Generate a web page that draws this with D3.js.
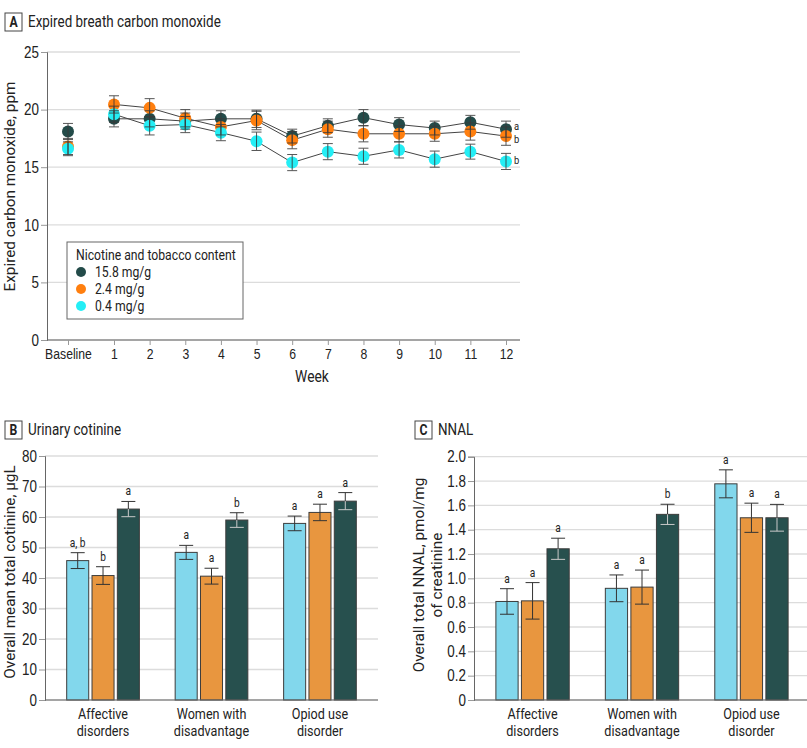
<!DOCTYPE html>
<html><head><meta charset="utf-8">
<script src="https://cdn.jsdelivr.net/npm/d3@7"></script>
<style>
body{margin:0;background:#fff;}
svg{font-family:Roboto,"DejaVu Sans Condensed",sans-serif;}
</style></head><body>
<svg id="c" width="807" height="748"></svg>
<script>
// ---------- DATA ----------
const weeks = ["Baseline","1","2","3","4","5","6","7","8","9","10","11","12"];
const seriesNames = ["15.8 mg/g","2.4 mg/g","0.4 mg/g"];
const coHigh = [18.1,19.2,19.2,19.0,19.2,19.2,17.7,18.6,19.3,18.7,18.4,18.9,18.3];
const coHighErr = [0.7,0.7,0.7,0.7,0.7,0.75,0.6,0.6,0.7,0.6,0.6,0.6,0.7];
const coMid = [16.8,20.45,20.15,19.25,18.5,19.05,17.35,18.3,17.9,17.9,17.9,18.1,17.7];
const coMidErr = [0.7,0.75,0.8,0.75,0.7,0.8,0.75,0.7,0.7,0.7,0.65,0.75,0.8];
const coLow = [16.6,19.6,18.6,18.7,18.0,17.25,15.4,16.35,15.95,16.5,15.7,16.35,15.5];
const coLowErr = [0.6,0.7,0.8,0.7,0.7,0.8,0.7,0.7,0.7,0.7,0.7,0.65,0.7];
const coSig = ["a","b","b"];
const coTicks = [0,5,10,15,20,25];

const groups = [["Affective","disorders"],["Women with","disadvantage"],["Opiod use","disorder"]];
const barSeries = ["0.4 mg/g","2.4 mg/g","15.8 mg/g"];
const cotLow = [45.7,48.4,57.9];
const cotLowErr = [2.6,2.3,2.4];
const cotMid = [40.8,40.6,61.5];
const cotMidErr = [2.9,2.6,2.7];
const cotHigh = [62.6,59.0,65.2];
const cotHighErr = [2.5,2.4,2.8];
const cotSig = [["a, b","b","a"],["a","a","b"],["a","a","a"]];
const cotTicks = [0,10,20,30,40,50,60,70,80];

const nnalLow = [0.81,0.918,1.777];
const nnalLowErr = [0.105,0.11,0.115];
const nnalMid = [0.815,0.928,1.498];
const nnalMidErr = [0.15,0.14,0.12];
const nnalHigh = [1.243,1.526,1.498];
const nnalHighErr = [0.087,0.083,0.11];
const nnalSig = [["a","a","a"],["a","a","b"],["a","a","a"]];
const nnalTicks = [0,0.2,0.4,0.6,0.8,1.0,1.2,1.4,1.6,1.8,2.0];

// ---------- STYLE ----------
const lineColors = ["#234b49","#ff7f0f","#24eef5"];
const barColors = ["#82d7ec","#e8963f","#27504e"];
const gridColor = "#dcdcdc", axisColor = "#666", tickColor = "#999", textColor = "#222";

const svg = d3.select("#c");
let titleNode = null;

function panelTitle(x, y, letter, text){
  const g = svg.append("g");
  g.append("rect").attr("x",x).attr("y",y).attr("width",17).attr("height",18)
    .attr("fill","#fff").attr("stroke","#444").attr("stroke-width",1);
  g.append("text").attr("x",x+8.5).attr("y",y+14).attr("text-anchor","middle")
    .attr("font-weight","bold").attr("font-size",15).attr("fill",textColor).text(letter);
  const t = g.append("text").attr("x",x+23).attr("y",y+14.5).attr("font-size",16.5).attr("fill",textColor).text(text);
  if (!titleNode) titleNode = t.node();
}

function yAxisGrid(g, y, ticks, x0, x1, fmt){
  g.append("g").selectAll("line").data(ticks).join("line")
    .attr("x1",x0).attr("x2",x1).attr("y1",d=>y(d)).attr("y2",d=>y(d))
    .attr("stroke",gridColor).attr("stroke-width",1.3);
  const ax = g.append("g").attr("transform",`translate(${x0},0)`)
    .call(d3.axisLeft(y).tickValues(ticks).tickSize(6).tickPadding(2).tickFormat(fmt));
  ax.select(".domain").attr("stroke",axisColor);
  ax.selectAll(".tick line").attr("stroke",tickColor);
  ax.selectAll(".tick text").attr("font-size",16.5).attr("fill",textColor).attr("font-family",null);
  return ax;
}

// ---------- PANEL A ----------
panelTitle(5,13,"A","Expired breath carbon monoxide");
{
  const g = svg.append("g");
  const yA = d3.scaleLinear().domain([0,25]).range([340,52]);
  const xA = d3.scaleLinear().domain([0,1,12]).range([68,114,506]);
  const left = 47, right = 520;
  yAxisGrid(g, yA, coTicks, left, right, d3.format("d"));
  g.append("line").attr("x1",left).attr("x2",right).attr("y1",340).attr("y2",340)
    .attr("stroke",axisColor).attr("stroke-width",1.2);
  const xa = g.append("g").attr("transform","translate(0,340)")
    .call(d3.axisBottom(xA).tickValues(d3.range(weeks.length)).tickSize(5).tickPadding(3).tickFormat(i=>weeks[i]));
  xa.select(".domain").remove();
  xa.selectAll(".tick line").attr("stroke",tickColor);
  xa.selectAll(".tick text").attr("font-size",15).attr("fill",textColor).attr("font-family",null);
  g.append("text").attr("x",312).attr("y",382).attr("text-anchor","middle").attr("font-size",17).attr("fill",textColor).text("Week");
  g.append("text").attr("class","nocomp").attr("transform",`translate(15,186.5) rotate(-90)`).attr("text-anchor","middle")
    .attr("font-size",15.3).attr("fill",textColor).text("Expired carbon monoxide, ppm");

  const series = [
    {m:coHigh,e:coHighErr,c:lineColors[0]},
    {m:coMid,e:coMidErr,c:lineColors[1]},
    {m:coLow,e:coLowErr,c:lineColors[2]}
  ];
  const line = d3.line().x((d,i)=>xA(i+1)).y(d=>yA(d));
  series.forEach(s=>{
    g.append("path").attr("d",line(s.m.slice(1))).attr("fill","none").attr("stroke","#444").attr("stroke-width",1);
  });
  series.forEach(s=>{
    g.append("g").selectAll("circle").data(s.m).join("circle")
      .attr("cx",(d,i)=>xA(i)).attr("cy",d=>yA(d)).attr("r",6).attr("fill",s.c);
  });
  series.forEach(s=>{
    const eg = g.append("g").attr("stroke","#3a3a3a").attr("stroke-width",1).attr("opacity",0.85);
    s.m.forEach((d,i)=>{
      const x = xA(i), y1 = yA(d+s.e[i]), y2 = yA(d-s.e[i]);
      eg.append("line").attr("x1",x).attr("x2",x).attr("y1",y1).attr("y2",y2);
      eg.append("line").attr("x1",x-5).attr("x2",x+5).attr("y1",y1).attr("y2",y1);
      eg.append("line").attr("x1",x-5).attr("x2",x+5).attr("y1",y2).attr("y2",y2);
    });
  });
  const last = weeks.length-1;
  const sigVals = [coHigh[last], coMid[last], coLow[last]];
  const sigDy = [1, 7, 3];
  g.append("g").selectAll("text").data(coSig).join("text")
    .attr("x",xA(last)+8).attr("y",(d,i)=>yA(sigVals[i])+sigDy[i]).attr("font-size",11.5).attr("fill",textColor).text(d=>d);

  // legend
  const lg = g.append("g");
  lg.append("rect").attr("x",67).attr("y",242).attr("width",176).attr("height",77)
    .attr("fill","#fff").attr("stroke","#666").attr("stroke-width",1);
  lg.append("text").attr("x",76).attr("y",260).attr("font-size",15).attr("fill",textColor).text("Nicotine and tobacco content");
  seriesNames.forEach((n,i)=>{
    lg.append("circle").attr("cx",81).attr("cy",272+i*17).attr("r",5).attr("fill",lineColors[i]);
    lg.append("text").attr("x",95).attr("y",277.5+i*17).attr("font-size",15).attr("fill",textColor).text(n);
  });
}

// ---------- BAR PANELS ----------
function barPanel(opts){
  const g = svg.append("g");
  const y = d3.scaleLinear().domain(opts.domain).range([700,opts.top]);
  const x0 = d3.scaleBand().domain(d3.range(groups.length)).range([opts.left,opts.right]).paddingInner(0.33).paddingOuter(0.2);
  const x1 = d3.scaleBand().domain(d3.range(barSeries.length)).range([0,x0.bandwidth()]).paddingInner(0.13);
  yAxisGrid(g, y, opts.ticks, opts.left, opts.right, opts.fmt);
  const vals = [opts.low, opts.mid, opts.high];
  const errs = [opts.lowE, opts.midE, opts.highE];
  groups.forEach((grp,gi)=>{
    const gg = g.append("g").attr("transform",`translate(${x0(gi)},0)`);
    barSeries.forEach((s,si)=>{
      const v = vals[si][gi], e = errs[si][gi];
      const bx = x1(si), bw = x1.bandwidth(), cx = bx + bw/2;
      gg.append("rect").attr("x",bx).attr("y",y(v)).attr("width",bw).attr("height",y(0)-y(v))
        .attr("fill",barColors[si]).attr("stroke","#3c3c3c").attr("stroke-width",1);
      const ec = si===2 ? "#c9c9c9" : "#333";
      const eg = gg.append("g").attr("stroke","#333").attr("stroke-width",1);
      const yt = y(v+e), yb = y(v-e);
      eg.append("line").attr("x1",cx).attr("x2",cx).attr("y1",yt).attr("y2",Math.min(yb,y(v)));
      eg.append("line").attr("x1",cx-7).attr("x2",cx+7).attr("y1",yt).attr("y2",yt);
      const eg2 = gg.append("g").attr("stroke",ec).attr("stroke-width",1);
      eg2.append("line").attr("x1",cx).attr("x2",cx).attr("y1",y(v)).attr("y2",yb);
      eg2.append("line").attr("x1",cx-7).attr("x2",cx+7).attr("y1",yb).attr("y2",yb);
      gg.append("text").attr("x",cx).attr("y",yt-6).attr("text-anchor","middle")
        .attr("font-size",12.5).attr("fill",textColor).text(opts.sig[gi][si]);
    });
    const t = gg.append("text").attr("text-anchor","middle").attr("font-size",15.5).attr("fill",textColor);
    grp.forEach((ln,li)=>t.append("tspan").attr("x",x0.bandwidth()/2).attr("y",719+li*17).text(ln));
  });
  g.append("line").attr("x1",opts.left).attr("x2",opts.right).attr("y1",700).attr("y2",700)
    .attr("stroke",axisColor).attr("stroke-width",1.2);
  const lab = g.append("text").attr("class","nocomp").attr("transform",`translate(${opts.labelX},${opts.labelY}) rotate(-90)`)
    .attr("text-anchor","middle").attr("font-size",15.3).attr("fill",textColor);
  opts.label.forEach((ln,li)=>lab.append("tspan").attr("x",0).attr("dy",li===0?0:17.5).text(ln));
}

panelTitle(5,421,"B","Urinary cotinine");
barPanel({domain:[0,80],top:456,left:45,right:378,ticks:cotTicks,fmt:d3.format("d"),
  low:cotLow,lowE:cotLowErr,mid:cotMid,midE:cotMidErr,high:cotHigh,highE:cotHighErr,sig:cotSig,
  labelX:15,labelY:572,label:["Overall mean total cotinine, µgL"]});

panelTitle(415,421,"C","NNAL");
barPanel({domain:[0,2],top:456.7,left:474,right:810,ticks:nnalTicks,fmt:d=>d===0?"0":d3.format(".1f")(d),
  low:nnalLow,lowE:nnalLowErr,mid:nnalMid,midE:nnalMidErr,high:nnalHigh,highE:nnalHighErr,sig:nnalSig,
  labelX:424,labelY:575,label:["Overall total NNAL, pmol/mg","of creatinine"]});

// ---------- condensed look: compress text horizontally around its anchor ----------
const SX = Math.max(0.7, Math.min(1, 193 / titleNode.getComputedTextLength()));
svg.selectAll("text:not(.nocomp)").each(function(){
  const t = d3.select(this);
  const tr = t.attr("transform");
  let x = t.attr("x");
  if (x === null) { const ts = t.select("tspan"); x = ts.empty() ? 0 : (ts.attr("x") || 0); }
  x = +x;
  const sc = `translate(${x},0) scale(${SX},1) translate(${-x},0)`;
  t.attr("transform", tr ? tr + " " + sc : sc);
});
</script>
</body></html>
